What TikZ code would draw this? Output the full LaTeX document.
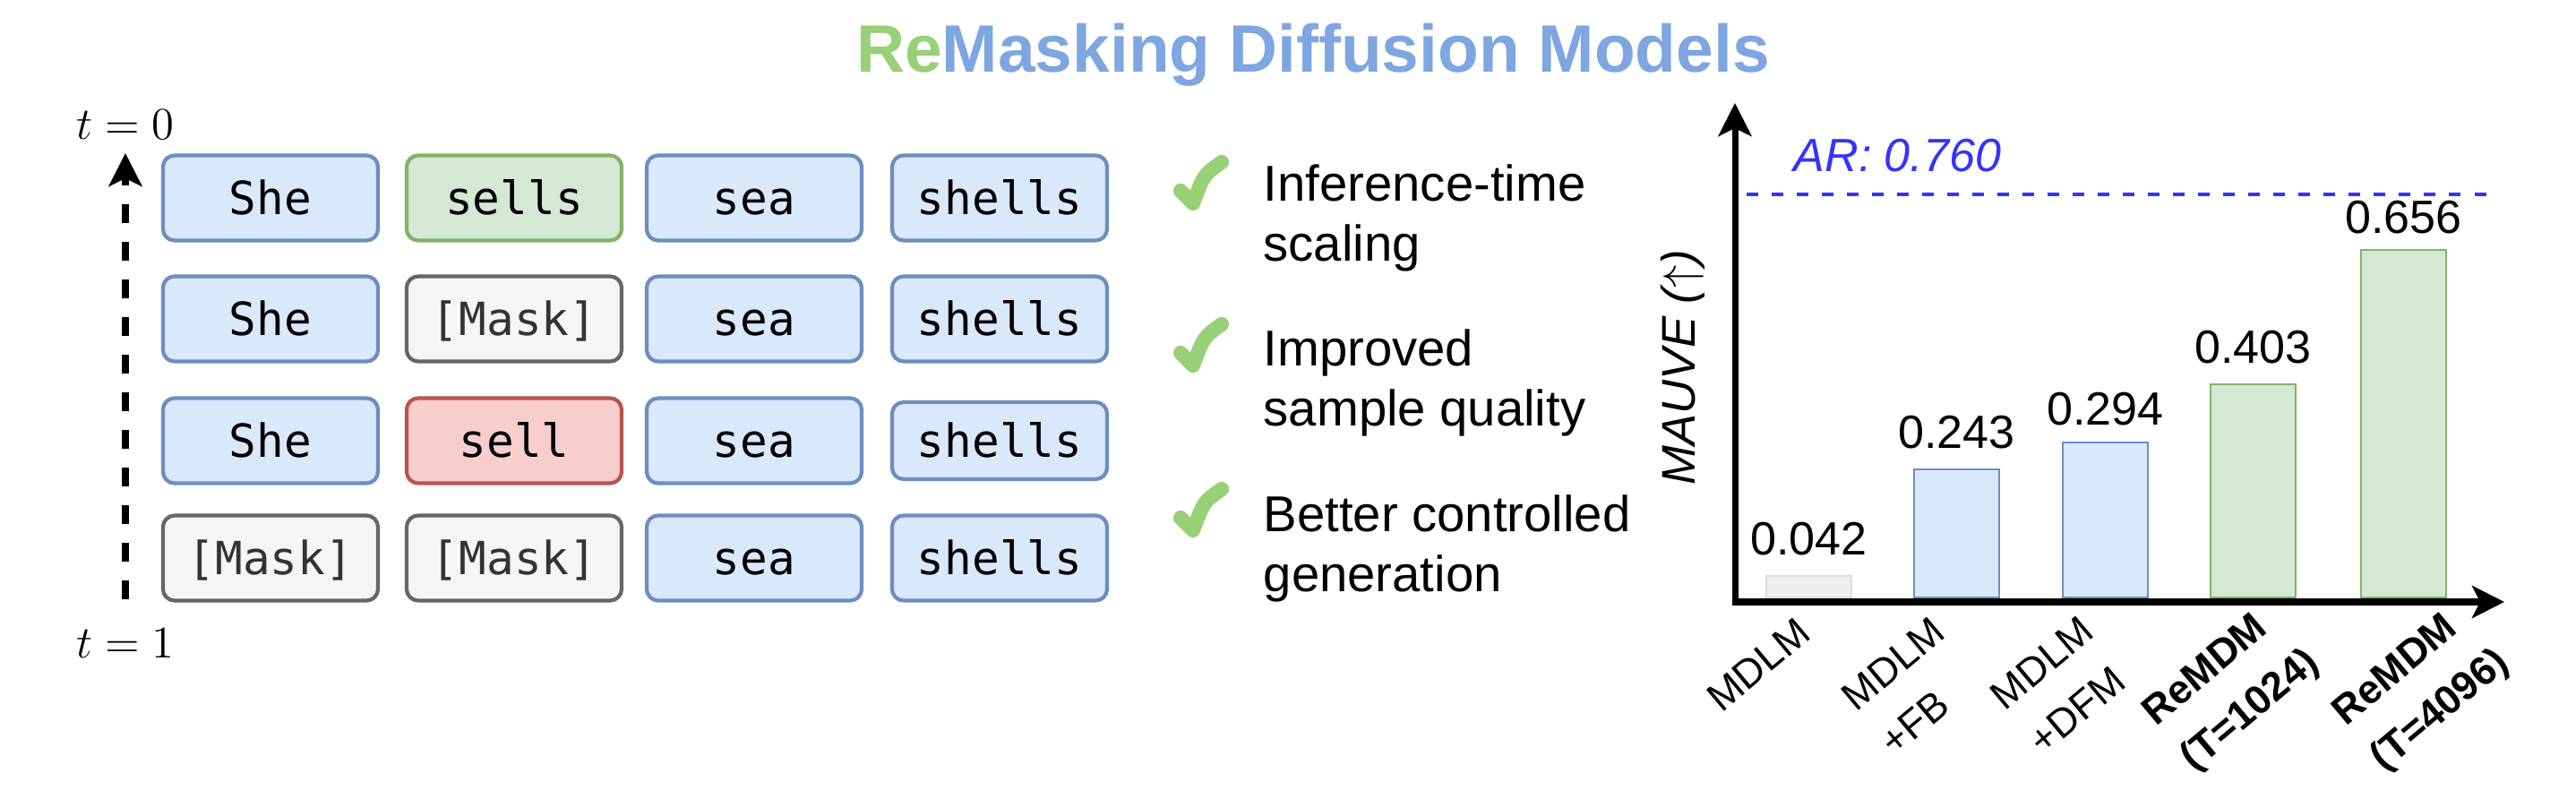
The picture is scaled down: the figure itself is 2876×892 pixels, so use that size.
\documentclass[tikz,border=0pt]{standalone}
\usepackage{fontspec}
\setsansfont{Liberation Sans}
\setmonofont{DejaVu Sans Mono}
\usetikzlibrary{positioning,arrows.meta}
\definecolor{blueFill}{HTML}{DAE8FC}
\definecolor{blueLine}{HTML}{6C8EBF}
\definecolor{greenFill}{HTML}{D5E8D4}
\definecolor{greenLine}{HTML}{82B366}
\definecolor{redFill}{HTML}{F8CECC}
\definecolor{redLine}{HTML}{B85450}
\definecolor{maskFill}{HTML}{F5F5F5}
\definecolor{maskLine}{HTML}{666666}
\definecolor{maskText}{HTML}{333333}
\definecolor{grayFill}{HTML}{EEEEEE}
\definecolor{grayLine}{HTML}{DDDDDD}
\definecolor{checkGreen}{HTML}{97D077}
\definecolor{titleBlue}{HTML}{7EA6E0}
\definecolor{arBlue}{HTML}{3333FF}

\begin{document}
\begin{tikzpicture}[x=0.01cm, y=-0.01cm,
        token/.style={draw, rounded corners=0.13cm, line width=1.2pt, minimum width=2.4cm, minimum height=0.95cm, inner sep=0pt, text height=10.6pt, text depth=0pt, font=\ttfamily\fontsize{14.5}{17}\selectfont},
        tokblue/.style={token, fill=blueFill, draw=blueLine},
        tokgreen/.style={token, fill=greenFill, draw=greenLine},
        tokred/.style={token, fill=redFill, draw=redLine},
        tokmask/.style={token, fill=maskFill, draw=maskLine, text=maskText},
        tlabel/.style={anchor=base, inner sep=0pt, font=\fontsize{15.4}{18}\selectfont},
        timearrow/.style={line width=2pt, dash pattern=on 0.21cm off 0.21cm, -{Stealth[length=0.37cm, width=0.37cm, inset=0.09cm]}},
        checkmark/.style={draw=checkGreen, line width=4.6pt, line cap=round, line join=round},
        item/.style={anchor=north west, align=left, inner sep=0pt, font=\sffamily\fontsize{16}{19.1}\selectfont},
        bar/.style={anchor=south, minimum width=0.95cm, inner sep=0pt, line width=0.6pt},
        bargray/.style={bar, fill=grayFill, draw=grayLine},
        barblue/.style={bar, fill=blueFill, draw=blueLine},
        bargreen/.style={bar, fill=greenFill, draw=greenLine},
        val/.style={inner sep=0pt, font=\sffamily\fontsize{14.8}{17}\selectfont},
        cat/.style={rotate=40, align=left, inner sep=0pt, font=\sffamily\fontsize{12.8}{18.8}\selectfont},
        axis/.style={line width=2pt, {Stealth[length=0.37cm, width=0.37cm, inset=0.09cm]}-{Stealth[length=0.36cm, width=0.36cm, inset=0.09cm]}},
        arline/.style={draw=arBlue, line width=1.2pt, dash pattern=on 0.13cm off 0.15cm}]
    \useasboundingbox (0,0) rectangle (2876,892);

    \node[anchor=base, inner sep=0pt, font=\sffamily\bfseries\fontsize{21.3}{25}\selectfont] (title) at (1466,81) {\textcolor{checkGreen}{Re}\textcolor{titleBlue}{Masking Diffusion Models}};

    \node[tokblue]  (w11) at (302,221) {She};
    \node[tokgreen] (w12) at (574,221) {sells};
    \node[tokblue]  (w13) at (842,221) {sea};
    \node[tokblue]  (w14) at (1116,221) {shells};

    \node[tokblue]  (w21) at (302,356) {She};
    \node[tokmask]  (w22) at (574,356) {[Mask]};
    \node[tokblue]  (w23) at (842,356) {sea};
    \node[tokblue]  (w24) at (1116,356) {shells};

    \node[tokblue]  (w31) at (302,492) {She};
    \node[tokred]   (w32) at (574,492) {sell};
    \node[tokblue]  (w33) at (842,492) {sea};
    \node[tokblue, minimum height=0.86cm] (w34) at (1116,492) {shells};

    \node[tokmask]  (w41) at (302,623) {[Mask]};
    \node[tokmask]  (w42) at (574,623) {[Mask]};
    \node[tokblue]  (w43) at (842,623) {sea};
    \node[tokblue]  (w44) at (1116,623) {shells};

    \node[tlabel] (t0) at (140,156) {$t=0$};
    \node[tlabel] (t1) at (140,735) {$t=1$};
    \coordinate (dtop) at (140,171);
    \coordinate (dbot) at (140,669);
    \draw[timearrow] (dbot) -- (dtop);

    \foreach \y in {203,384,568}
        \draw[checkmark] (1318,\y+10) -- (1332,\y+24) .. controls (1344,\y-8) .. (1364,\y-22);
    \node[item] (it1) at (1410,183) {Inference-time\\scaling};
    \node[item] (it2) at (1410,367) {Improved\\sample quality};
    \node[item] (it3) at (1410,552) {Better controlled\\generation};

    \node[bargray,  minimum height=0.24cm] (b1) at (2019.5,668) {};
    \node[barblue,  minimum height=1.43cm] (b2) at (2184.5,668) {};
    \node[barblue,  minimum height=1.73cm] (b3) at (2350.5,668) {};
    \node[bargreen, minimum height=2.38cm] (b4) at (2515.5,668) {};
    \node[bargreen, minimum height=3.88cm] (b5) at (2683.5,668) {};

    \node[val, above=0.21cm of b1] (v1) {0.042};
    \node[val, above=0.21cm of b2] (v2) {0.243};
    \node[val, above=0.17cm of b3] (v3) {0.294};
    \node[val, above=0.21cm of b4] (v4) {0.403};
    \node[val, above=0.16cm of b5] (v5) {0.656};

    \coordinate (arA) at (1950,217);
    \coordinate (arB) at (2777,217);
    \draw[arline] (arA) -- (arB);
    \node[anchor=base west, inner sep=0pt, text=arBlue, font=\sffamily\itshape\fontsize{14.8}{17}\selectfont] (ar) at (2002,192) {AR: 0.760};

    \coordinate (ytip) at (1937,115);
    \coordinate (orig) at (1937,672);
    \coordinate (xtip) at (2796,672);
    \draw[axis] (ytip) -- (orig) -- (xtip);
    \node[rotate=90, anchor=base, inner sep=0pt, font=\sffamily\itshape\fontsize{15}{18}\selectfont] (ylab) at (1892,410) {MAUVE ($\uparrow$)};

    \node[cat] (c1) at (1963,742) {MDLM};
    \node[cat] (c2) at (2135,766) {MDLM\\+FB};
    \node[cat] (c3) at (2301,765) {MDLM\\+DFM};
    \node[cat, font=\sffamily\bfseries\fontsize{12.8}{18.8}\selectfont] (c4) at (2492,769) {ReMDM\\(T=1024)};
    \node[cat, font=\sffamily\bfseries\fontsize{12.8}{18.8}\selectfont] (c5) at (2704,769) {ReMDM\\(T=4096)};
\end{tikzpicture}
\end{document}
